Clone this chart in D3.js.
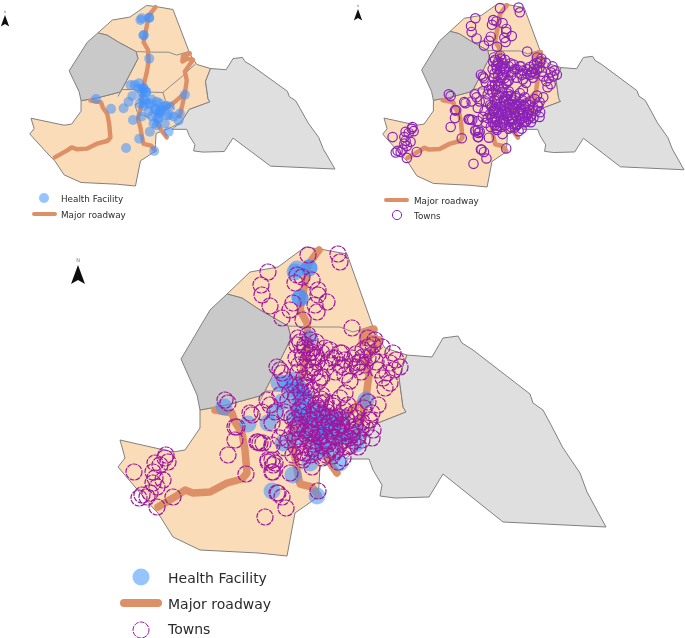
<!DOCTYPE html>
<html>

<head>
    <meta charset="utf-8">
    <style>
        body {
            margin: 0;
            background: #fff;
            font-family: 'DejaVu Sans', sans-serif;
        }

        svg {
            display: block;
        }

        .region {
            stroke: #808080;
            stroke-linejoin: round;
        }

        .inner {
            fill: none;
            stroke: #8c8c8c;
        }

        .road {
            fill: none;
            stroke: #dd9067;
            stroke-linecap: round;
            stroke-linejoin: round;
        }

        .legend-label {
            fill: #2b2b2b;
        }
    </style>
</head>

<body>
    <svg width="685" height="638"></svg>

    <script src="https://d3js.org/d3.v7.min.js"></script>
    <script>
        const orangeRegion = [[227, 294], [250, 272], [278, 267], [305, 247], [320, 249], [347, 254], [373, 327], [378, 337], [385, 348], [407, 355], [399, 377], [403, 407], [406, 412], [373, 425], [360, 447], [340, 458], [320, 466], [319, 485], [318, 497], [295, 513], [287, 556], [258, 553], [200, 550], [173, 537], [158, 513], [153, 508], [118, 467], [125, 458], [120, 440], [173, 452], [185, 450], [200, 428], [200, 410], [227, 405], [263, 395], [273, 375], [291, 338], [288, 326], [260, 310], [242, 298]]
        const westGrey = [[227, 294], [242, 298], [260, 310], [288, 326], [291, 338], [273, 375], [263, 395], [227, 405], [200, 410], [197, 395], [181, 359], [210, 310]]
        const eastGrey = [[407, 355], [432, 357], [443, 338], [458, 336], [462, 343], [473, 350], [530, 394], [533, 403], [543, 410], [550, 423], [563, 448], [580, 473], [587, 492], [606, 527], [503, 522], [443, 474], [429, 497], [395, 498], [380, 496], [382, 485], [373, 470], [369, 459], [345, 459], [360, 447], [373, 425], [406, 412], [403, 407], [399, 377]]

        const innerBorders = [
            [[288, 326], [317, 327], [340, 327], [353, 332], [372, 326]],
            [[259, 403], [265, 391], [283, 391], [299, 395], [331, 396], [343, 385], [360, 370], [383, 347]],
            [[299, 395], [300, 410], [286, 417], [290, 430], [310, 440]],
            [[331, 396], [335, 410], [350, 425]]
        ]

        const roads = [
            [[319, 250], [308, 265], [305, 283], [300, 310], [307, 323], [308, 343], [305, 362], [302, 375], [298, 395], [296, 420], [291, 440], [295, 457], [298, 475], [300, 484], [312, 487], [318, 495]],
            [[158, 507], [178, 495], [185, 490], [193, 493], [210, 492], [227, 483], [242, 479], [247, 473], [245, 450], [242, 433], [235, 422], [232, 413], [215, 410]],
            [[374, 329], [363, 333], [362, 343], [370, 338], [379, 340], [366, 360], [369, 375], [366, 397], [362, 417], [358, 435]],
            [[366, 397], [350, 412], [340, 420], [320, 432]],
            [[320, 445], [328, 460], [337, 473]]
        ]

        const facilityX = [297, 309, 300, 309, 286, 293, 279, 300, 304, 224, 248, 268, 276, 282, 283, 297, 300, 302, 313, 321, 332, 342, 326, 337, 348, 356, 358, 366, 316, 334, 310, 340, 293, 272, 317, 321, 305, 294, 308, 318, 329, 313, 324, 342, 336, 326, 297, 292, 298,
            309, 300, 304, 300, 318, 326, 310, 322, 295]
        const facilityY = [269, 268, 298, 338, 383, 380, 383, 389, 395, 407, 424, 423, 412, 402, 443, 437, 419, 409, 408, 412, 420, 420, 432, 435, 437, 444, 432, 400, 449, 449, 463, 463, 475, 491, 496, 452, 415, 415, 429, 423, 426, 437, 440, 435, 419, 415, 395, 389, 406,
            268, 298, 395, 389, 425, 428, 415, 440, 272]

        const townX = [268, 261, 262, 270, 282, 308, 338, 340, 295, 297, 302, 312, 318, 318, 327, 315, 317, 290, 293, 303, 352,
            308, 300, 305, 313, 303, 322, 308, 317, 340, 332, 343, 358, 313, 305, 320, 350, 277, 280, 267, 228, 252, 237, 272, 275,
            305, 297, 317, 312, 342, 335, 328, 340, 322, 318, 345, 333, 363, 360, 365, 368, 357, 373, 382, 393, 390, 400, 387, 390, 385, 378, 372, 373, 368, 282, 258, 263, 268, 275, 293, 303, 343, 338,
            166, 165, 155, 160, 168, 134, 153, 155, 163, 153, 157, 150, 142, 139, 147, 173, 157, 228, 235, 235, 246, 225, 250, 260, 257,
            272, 273, 268, 273, 265, 277, 282, 286, 278, 318, 290, 302, 312, 272,
            296, 301, 306, 311, 316, 321, 326, 299, 304, 309, 314, 320, 327, 333, 338, 344, 350, 356, 362, 295, 302, 308, 315, 322, 329, 335, 342, 348, 355, 361, 298, 305, 311, 318, 325, 331, 337, 345, 352, 300, 307, 314, 319, 327, 334, 341, 349, 296, 303, 312, 323, 330, 339, 347, 304, 316, 326, 335, 310, 320, 330, 292, 288, 300, 345, 353, 366, 369, 313, 298, 328, 306, 341, 318, 337,
            298, 310, 316, 302, 296, 309, 314, 299, 310, 304, 298, 315, 325, 330, 345, 352, 326, 335, 345, 356, 363, 368, 372, 376, 361, 352, 378, 383, 394, 396, 375, 368,
            285, 295, 305, 290, 280, 312, 322, 270, 262, 285, 288, 283, 280, 272, 285, 300, 310, 322, 332, 350, 358, 362, 372, 370, 348, 356, 364, 340, 295, 308,
            303, 310, 316, 324, 333, 340, 346, 352, 358, 296, 292, 318, 326, 334, 344, 300, 312, 328, 336]
        const townY = [272, 285, 295, 306, 318, 255, 254, 262, 283, 275, 277, 280, 290, 295, 302, 305, 312, 310, 303, 320, 328,
            335, 342, 348, 348, 357, 353, 360, 362, 353, 358, 367, 363, 368, 367, 378, 381, 367, 370, 400, 403, 415, 427, 423, 412,
            345, 345, 357, 352, 353, 358, 362, 365, 377, 382, 393, 403, 357, 362, 365, 358, 367, 345, 347, 353, 363, 367, 373, 383, 388, 405, 413, 430, 402, 373, 442, 443, 460, 463, 455, 460, 458, 462,
            455, 458, 463, 465, 462, 472, 472, 478, 480, 483, 487, 493, 495, 498, 497, 497, 507, 455, 440, 427, 474, 400, 413, 443, 442,
            460, 465, 462, 472, 517, 493, 497, 508, 493, 491, 473, 457, 467, 472,
            397, 392, 402, 396, 405, 399, 408, 410, 406, 414, 411, 403, 412, 406, 416, 410, 415, 418, 422, 420, 417, 424, 419, 415, 422, 418, 425, 421, 426, 428, 429, 431, 428, 433, 427, 431, 428, 432, 435, 439, 436, 441, 437, 441, 437, 441, 438, 447, 445, 449, 446, 450, 445, 447, 453, 452, 455, 452, 432, 437, 423, 433, 440, 385, 436, 441, 428, 420, 444, 425, 417, 388, 425, 408, 428,
            338, 340, 342, 352, 358, 353, 357, 365, 372, 378, 372, 373, 348, 350, 360, 358, 368, 372, 375, 354, 350, 347, 355, 362, 372, 366, 370, 378, 370, 360, 340, 338,
            380, 385, 385, 392, 395, 390, 395, 405, 412, 412, 400, 428, 438, 445, 448, 452, 455, 458, 456, 446, 447, 440, 438, 420, 405, 412, 408, 398, 440, 448,
            412, 420, 430, 435, 425, 432, 418, 430, 437, 428, 418, 412, 402, 418, 440, 424, 433, 444, 450]

        // one scale pair per panel, same map units
        const domainX = [120, 606]
        const domainY = [248, 556]

        const panels = {
            left: {
                x: d3.scaleLinear().domain(domainX).range([31, 335]),
                y: d3.scaleLinear().domain(domainY).range([6, 186]),
                roadWidth: 4.4, dotR: 5, townR: 0
            },
            right: {
                x: d3.scaleLinear().domain(domainX).range([384, 684]),
                y: d3.scaleLinear().domain(domainY).range([4, 187]),
                roadWidth: 4.6, dotR: 0, townR: 4.7
            },
            big: {
                x: d3.scaleLinear().domain(domainX).range(domainX),
                y: d3.scaleLinear().domain(domainY).range(domainY),
                roadWidth: 7.5, dotR: 8.5, townR: 8, dashed: true
            }
        }

        let svg = d3.select("svg")

        let defs = svg.append("defs")
        defs.append("filter").attr("id", "soft")
            .append("feGaussianBlur").attr("stdDeviation", 0.45)

        let root = svg.append("g").attr("filter", "url(#soft)")

        function drawMap(p) {
            let g = root.append("g")
            let line = d3.line().x(d => p.x(d[0])).y(d => p.y(d[1]))

            g.append("path").attr("class", "region").attr("fill", "#fbdcb9").attr("d", line(orangeRegion) + "Z")
            g.append("path").attr("class", "region").attr("fill", "#c9c9c9").attr("d", line(westGrey) + "Z")
            g.append("path").attr("class", "region").attr("fill", "#dfdfdf").attr("d", line(eastGrey) + "Z")

            g.selectAll(".inner").data(innerBorders).join("path")
                .attr("class", "inner")
                .attr("d", line)

            g.selectAll(".road").data(roads).join("path")
                .attr("class", "road")
                .attr("stroke-width", p.roadWidth)
                .attr("d", line)

            if (p.dotR) {
                g.selectAll(".facility").data(facilityX).join("circle")
                    .attr("class", "facility")
                    .attr("cx", d => p.x(d))
                    .attr("cy", (d, i) => p.y(facilityY[i]))
                    .attr("r", p.dotR)
                    .attr("fill", "#3f92ff")
                    .attr("fill-opacity", 0.55)
            }

            if (p.townR) {
                g.selectAll(".town").data(townX).join("circle")
                    .attr("class", "town")
                    .attr("cx", d => p.x(d))
                    .attr("cy", (d, i) => p.y(townY[i]))
                    .attr("r", p.townR)
                    .attr("fill", "none")
                    .attr("stroke", p.dashed ? "#a0189a" : "#8a22b8")
                    .attr("stroke-width", 1.2)
                    .attr("stroke-dasharray", p.dashed ? "5 1" : null)
            }
        }

        drawMap(panels.left)
        drawMap(panels.right)
        drawMap(panels.big)

        // north arrows
        function northArrow(cx, top, s) {
            let g = root.append("g").attr("transform", `translate(${cx},${top}) scale(${s})`)
            g.append("path").attr("d", "M0,0 L7,19 L0,15 L-7,19 Z").attr("fill", "#111")
            g.append("text").attr("y", -3).attr("text-anchor", "middle")
                .attr("font-size", 5).attr("fill", "#777").text("N")
        }
        northArrow(5, 15, 0.6)
        northArrow(358, 9, 0.6)
        northArrow(78, 265, 1)

        // legends
        function legendDot(x, y, r) {
            root.append("circle").attr("cx", x).attr("cy", y).attr("r", r)
                .attr("fill", "#4f9dff").attr("fill-opacity", 0.6)
        }
        function legendRoad(x1, x2, y, w) {
            root.append("line").attr("class", "road").attr("x1", x1).attr("x2", x2)
                .attr("y1", y).attr("y2", y).attr("stroke-width", w)
        }
        function legendTown(x, y, r, color, dash) {
            root.append("circle").attr("cx", x).attr("cy", y).attr("r", r)
                .attr("fill", "none").attr("stroke", color).attr("stroke-dasharray", dash)
        }
        function legendText(x, y, size, label) {
            root.append("text").attr("class", "legend-label")
                .attr("x", x).attr("y", y).attr("font-size", size).text(label)
        }

        legendDot(44, 198, 5)
        legendText(61, 202, 8.8, "Health Facility")
        legendRoad(34, 55, 214, 4)
        legendText(61, 218, 8.8, "Major roadway")

        legendRoad(386, 407, 200, 4)
        legendText(414, 204, 8.8, "Major roadway")
        legendTown(397, 215, 4.6, "#8a22b8", null)
        legendText(414, 219, 8.8, "Towns")

        legendDot(141, 577, 8.5)
        legendText(168, 583, 14, "Health Facility")
        legendRoad(124, 158, 603, 8)
        legendText(168, 609, 14, "Major roadway")
        legendTown(141, 630, 8, "#a0189a", "5 1")
        legendText(168, 634, 14, "Towns")
    </script>
</body>

</html>
